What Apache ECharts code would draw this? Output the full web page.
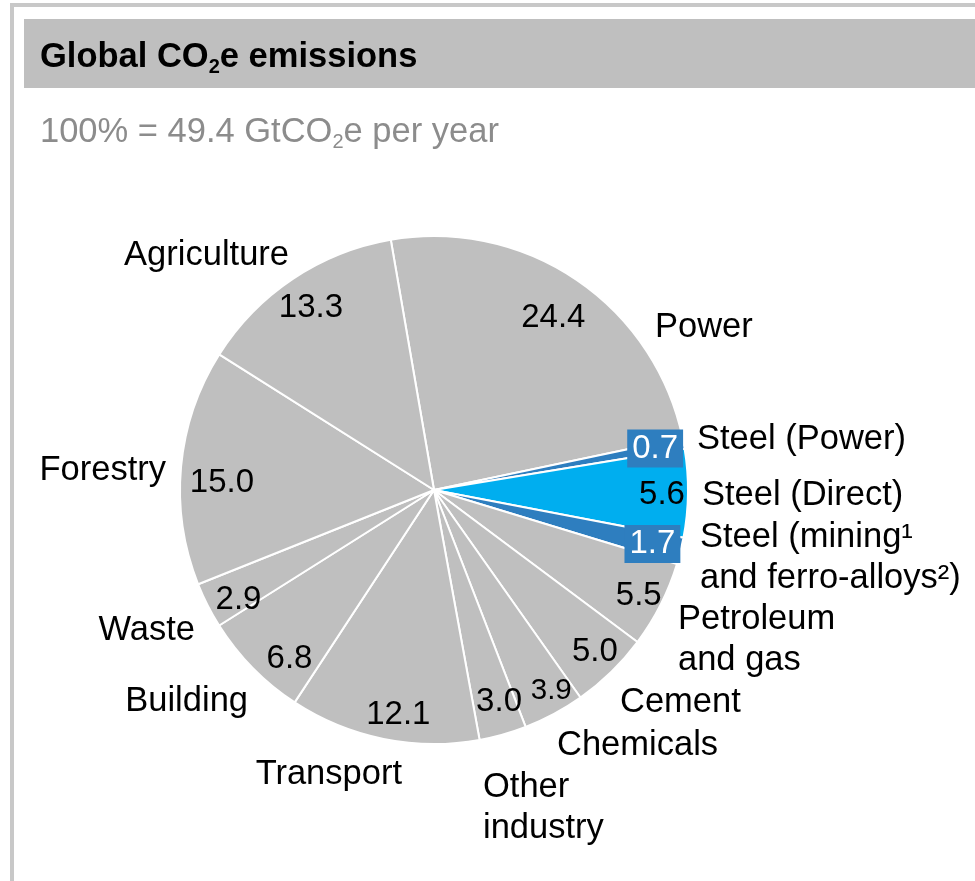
<!DOCTYPE html>
<html>
<head>
<meta charset="utf-8">
<script src="https://cdn.jsdelivr.net/npm/echarts@6/dist/echarts.min.js"></script>
<style>
html,body{margin:0;padding:0;background:#fff;}
#chart{width:975px;height:881px;}
</style>
</head>
<body>
<div id="chart"></div>
<script>
// ---- data ----
const categories = [
  'Power', 'Steel (Power)', 'Steel (Direct)', 'Steel (mining\u00b9\nand ferro-alloys\u00b2)',
  'Petroleum\nand gas', 'Cement', 'Chemicals', 'Other\nindustry', 'Transport',
  'Building', 'Waste', 'Forestry', 'Agriculture'
];
const shares = [24.4, 0.7, 5.6, 1.7, 5.5, 5.0, 3.9, 3.0, 12.1, 6.8, 2.9, 15.0, 13.3];
const totalText = '49.4';

// ---- layout / style config ----
const FONT = "'Liberation Sans', Arial, Helvetica, sans-serif";
const CX = 434, CY = 490, R = 254;
const GREY = '#bfbfbf', DARK_BLUE = '#2e7ebf', BRIGHT_BLUE = '#00aeef';
const sliceColor = { 'Steel (Power)': DARK_BLUE, 'Steel (Direct)': BRIGHT_BLUE };
sliceColor[categories[3]] = DARK_BLUE;
// name label anchors: [x, y, align]
const nameAnchors = [
  [655, 327, 'left'], [697, 439, 'left'], [702, 495, 'left'], [700, 558, 'left'],
  [678, 640, 'left'], [620, 702, 'left'], [557, 745, 'left'], [483, 808, 'left'],
  [402, 774, 'right'], [248, 701, 'right'], [195, 630, 'right'], [166, 470, 'right'],
  [289, 255, 'right']
];
// small nudges for value labels: [dx, dy]
const valueNudge = [
  [-7, 14], [0, 0], [3, 2], [0, 0], [4, 4], [4, 1], [11, 3], [4, -5],
  [9, 4], [16, 11], [5, 8], [12, 13], [2, 5]
];

const pieData = categories.map((name, i) => ({
  name: name,
  value: shares[i],
  itemStyle: { color: sliceColor[name] || GREY }
}));

const valueData = categories.map((name, i) => {
  const item = { name: name, value: shares[i] };
  if (sliceColor[name] === DARK_BLUE) {
    item.label = { color: '#fff', backgroundColor: DARK_BLUE, padding: [3, 5, 2, 5] };
  }
  if (name === 'Chemicals') item.label = { fontSize: 29.5 };
  return item;
});

const chart = echarts.init(document.getElementById('chart'), null, { renderer: 'canvas' });
chart.setOption({
  animation: false,
  backgroundColor: '#fff',
  graphic: [
    { type: 'rect', z: 0, shape: { x: 10, y: 3, width: 975, height: 4 }, style: { fill: '#c8c8c8' } },
    { type: 'rect', z: 0, shape: { x: 10, y: 3, width: 4, height: 900 }, style: { fill: '#c8c8c8' } },
    { type: 'rect', z: 0, shape: { x: 24, y: 19, width: 960, height: 69 }, style: { fill: '#bfbfbf' } }
  ],
  title: [
    {
      left: 40, top: 37, padding: 0,
      text: '{b|Global CO}{s|2}{b|e emissions}',
      textStyle: {
        rich: {
          b: { fontSize: 34.5, fontWeight: 'bold', color: '#000', fontFamily: FONT, lineHeight: 40 },
          s: { fontSize: 20, fontWeight: 'bold', color: '#000', fontFamily: FONT, lineHeight: 19, verticalAlign: 'bottom' }
        }
      }
    },
    {
      left: 40, top: 112, padding: 0,
      text: '{b|100% = ' + totalText + ' GtCO}{s|2}{b|e per year}',
      textStyle: {
        fontWeight: 'normal',
        rich: {
          b: { fontSize: 34.5, fontWeight: 'normal', color: '#8c8c8c', fontFamily: FONT, lineHeight: 40 },
          s: { fontSize: 20, fontWeight: 'normal', color: '#8c8c8c', fontFamily: FONT, lineHeight: 19, verticalAlign: 'bottom' }
        }
      }
    }
  ],
  series: [
    {
      type: 'pie',
      center: [CX, CY],
      radius: [0, R],
      startAngle: 99.8,
      clockwise: true,
      avoidLabelOverlap: false,
      silent: true,
      itemStyle: { borderColor: '#fff', borderWidth: 2 },
      label: {
        show: true,
        position: 'outside',
        formatter: '{b}',
        fontSize: 34.5,
        lineHeight: 41,
        color: '#000',
        fontFamily: FONT
      },
      labelLine: { show: false },
      labelLayout: function (p) {
        const a = nameAnchors[p.dataIndex];
        return { x: a[0], y: a[1], align: a[2], verticalAlign: 'middle' };
      },
      data: pieData
    },
    {
      type: 'pie',
      center: [CX, CY],
      radius: [190, R],
      startAngle: 99.8,
      clockwise: true,
      avoidLabelOverlap: false,
      silent: true,
      itemStyle: { color: 'rgba(0,0,0,0)', borderWidth: 0 },
      label: {
        show: true,
        position: 'inside',
        formatter: function (p) { return p.value.toFixed(1); },
        fontSize: 33,
        color: '#000',
        fontFamily: FONT
      },
      labelLine: { show: false },
      labelLayout: function (p) {
        const n = valueNudge[p.dataIndex];
        return { dx: n[0], dy: n[1] };
      },
      data: valueData
    }
  ]
});
</script>
</body>
</html>
